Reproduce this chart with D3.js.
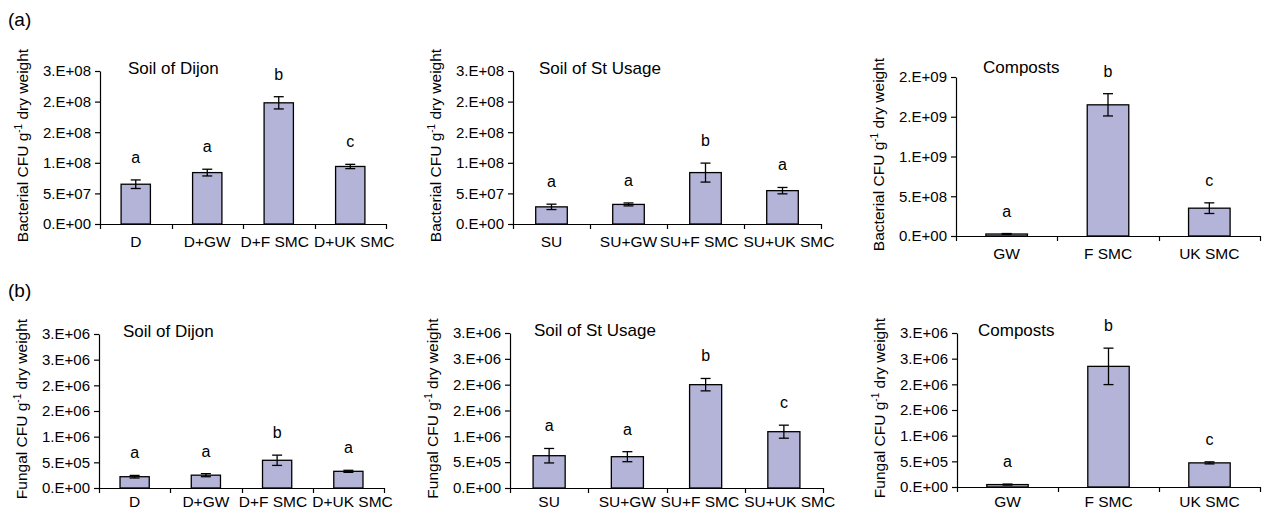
<!DOCTYPE html>
<html><head><meta charset="utf-8">
<script src="https://cdn.jsdelivr.net/npm/d3@7"></script>
<style>
body{margin:0;background:#fff}
svg{display:block}
text{font-family:"Liberation Sans",Arial,Helvetica,sans-serif;fill:#000}
</style>
</head><body>
<svg id="c" width="1263" height="512"></svg>
<script>
// ---------- data ----------
const dijonCats = ["D","D+GW","D+F SMC","D+UK SMC"];
const usageCats = ["SU","SU+GW","SU+F SMC","SU+UK SMC"];
const compostCats = ["GW","F SMC","UK SMC"];

const bacDijon = [6.5e7, 8.4e7, 1.98e8, 9.4e7];
const bacDijonErr = [7e6, 5.5e6, 1.0e7, 3.5e6];
const bacDijonLetters = ["a","a","b","c"];

const bacUsage = [2.8e7, 3.2e7, 8.4e7, 5.45e7];
const bacUsageErr = [4.4e6, 2.4e6, 1.55e7, 5.2e6];
const bacUsageLetters = ["a","a","b","a"];

const bacCompost = [2.5e7, 1.65e9, 3.5e8];
const bacCompostErr = [6e6, 1.4e8, 6.7e7];
const bacCompostLetters = ["a","b","c"];

const funDijon = [2.2e5, 2.5e5, 5.4e5, 3.25e5];
const funDijonErr = [2.5e4, 3e4, 1.0e5, 2e4];
const funDijonLetters = ["a","a","b","a"];

const funUsage = [6.25e5, 6.06e5, 2.0e6, 1.09e6];
const funUsageErr = [1.4e5, 9.7e4, 1.2e5, 1.26e5];
const funUsageLetters = ["a","a","b","c"];

const funCompost = [4.7e4, 2.35e6, 4.7e5];
const funCompostErr = [1e4, 3.55e5, 2e4];
const funCompostLetters = ["a","b","c"];

const bacSoilTicks = ["0.E+00","5.E+07","1.E+08","2.E+08","2.E+08","3.E+08"];
const bacCompostTicks = ["0.E+00","5.E+08","1.E+09","2.E+09","2.E+09"];
const funTicks = ["0.E+00","5.E+05","1.E+06","2.E+06","2.E+06","3.E+06","3.E+06"];

const titles = ["Soil of Dijon","Soil of St Usage","Composts"];
const rowLabels = ["(a)","(b)"];

// ---------- layout ----------
const svg = d3.select("#c");
const FILL = "#b4b4d9";

const panels = [
  {cats:dijonCats, vals:bacDijon, errs:bacDijonErr, letters:bacDijonLetters, ticks:bacSoilTicks, step:5e7, max:2.5e8,
   x0:100, x1:386, yb:224, yt:71, title:titles[0], tx:128, ty:74, kind:"Bacterial"},
  {cats:usageCats, vals:bacUsage, errs:bacUsageErr, letters:bacUsageLetters, ticks:bacSoilTicks, step:5e7, max:2.5e8,
   x0:513, x1:821, yb:224, yt:71, title:titles[1], tx:539, ty:74, kind:"Bacterial"},
  {cats:compostCats, vals:bacCompost, errs:bacCompostErr, letters:bacCompostLetters, ticks:bacCompostTicks, step:5e8, max:2e9,
   x0:956, x1:1260, yb:236, yt:77, title:titles[2], tx:983, ty:73, kind:"Bacterial"},
  {cats:dijonCats, vals:funDijon, errs:funDijonErr, letters:funDijonLetters, ticks:funTicks, step:5e5, max:3e6,
   x0:99, x1:384, yb:488, yt:334, title:titles[0], tx:123, ty:337, kind:"Fungal"},
  {cats:usageCats, vals:funUsage, errs:funUsageErr, letters:funUsageLetters, ticks:funTicks, step:5e5, max:3e6,
   x0:510, x1:823, yb:488, yt:333, title:titles[1], tx:534, ty:336, kind:"Fungal"},
  {cats:compostCats, vals:funCompost, errs:funCompostErr, letters:funCompostLetters, ticks:funTicks, step:5e5, max:3e6,
   x0:957, x1:1260, yb:487, yt:333, title:titles[2], tx:978, ty:336, kind:"Fungal"}
];

function drawPanel(p){
  const g = svg.append("g");
  const pad = 0.59;
  const x = d3.scaleBand().domain(p.cats).range([p.x0,p.x1]).paddingInner(pad).paddingOuter(pad/2);
  const y = d3.scaleLinear().domain([0,p.max]).range([p.yb,p.yt]);
  const tickVals = p.ticks.map((t,i)=>i*p.step);

  // y axis
  const ya = d3.axisLeft(y).tickValues(tickVals).tickFormat((d,i)=>p.ticks[i])
    .tickSize(5).tickSizeOuter(0).tickPadding(4);
  const yg = g.append("g").attr("transform",`translate(${p.x0},0)`).call(ya);
  yg.selectAll("text").style("font-size","15px").attr("fill","#000");
  yg.selectAll("line,path").attr("stroke","#000").attr("stroke-width",1.2);

  // x axis line
  g.append("line").attr("x1",p.x0).attr("x2",p.x1).attr("y1",p.yb+0.5).attr("y2",p.yb+0.5)
    .attr("stroke","#000").attr("stroke-width",1.2);
  const step = x.step();
  d3.range(p.cats.length+1).forEach(i=>{
    const xx = Math.round(p.x0 + i*step)+0.5;
    g.append("line").attr("x1",xx).attr("x2",xx).attr("y1",p.yb).attr("y2",p.yb+5)
      .attr("stroke","#000").attr("stroke-width",1.2);
  });

  const data = p.cats.map((c,i)=>({c, v:p.vals[i], e:p.errs[i], l:p.letters[i]}));

  // bars
  g.selectAll("rect.bar").data(data).join("rect").attr("class","bar")
    .attr("x",d=>x(d.c)).attr("width",x.bandwidth())
    .attr("y",d=>y(d.v)).attr("height",d=>y(0)-y(d.v))
    .attr("fill",FILL).attr("stroke","#000").attr("stroke-width",1.3);

  // error bars
  const cap = 5;
  data.forEach(d=>{
    const cx = x(d.c)+x.bandwidth()/2;
    const t = y(d.v+d.e), b = y(Math.max(0,d.v-d.e));
    g.append("line").attr("x1",cx).attr("x2",cx).attr("y1",t).attr("y2",b).attr("stroke","#000").attr("stroke-width",1.3);
    g.append("line").attr("x1",cx-cap).attr("x2",cx+cap).attr("y1",t).attr("y2",t).attr("stroke","#000").attr("stroke-width",1.3);
    g.append("line").attr("x1",cx-cap).attr("x2",cx+cap).attr("y1",b).attr("y2",b).attr("stroke","#000").attr("stroke-width",1.3);
    g.append("text").attr("x",cx).attr("y",t-17).attr("text-anchor","middle")
      .style("font-size","16px").text(d.l);
  });

  // category labels with overlap resolution
  const labY = Math.min(p.yb+23, 507);
  const labs = data.map(d=>{
    const cx = x(d.c)+x.bandwidth()/2;
    const t = g.append("text").attr("x",cx).attr("y",labY).attr("text-anchor","middle")
      .style("font-size","15.5px").text(d.c);
    return {t, cx, w:t.node().getComputedTextLength()};
  });
  for(let i=1;i<labs.length;i++){
    const a = labs[i-1], b = labs[i];
    const ov = (a.cx + a.w/2 + 5) - (b.cx - b.w/2);
    if(ov>0){ a.cx -= ov/2; b.cx += ov/2; }
  }
  labs.forEach(l=>l.t.attr("x",l.cx));

  // title
  g.append("text").attr("x",p.tx).attr("y",p.ty).style("font-size","17px").text(p.title);

  // y label
  const yl = g.append("text")
    .attr("transform",`translate(${p.x0-72},${(p.yb+p.yt)/2-2}) rotate(-90)`)
    .attr("text-anchor","middle").style("font-size","15.5px");
  yl.append("tspan").text(p.kind+" CFU g");
  yl.append("tspan").attr("dy",-6).style("font-size","10px").text("-1");
  yl.append("tspan").attr("dy",6).text(" dry weight");
}

panels.forEach(drawPanel);

svg.append("text").attr("x",8).attr("y",26).style("font-size","19px").text(rowLabels[0]);
svg.append("text").attr("x",8).attr("y",297).style("font-size","19px").text(rowLabels[1]);
</script>
</body></html>
